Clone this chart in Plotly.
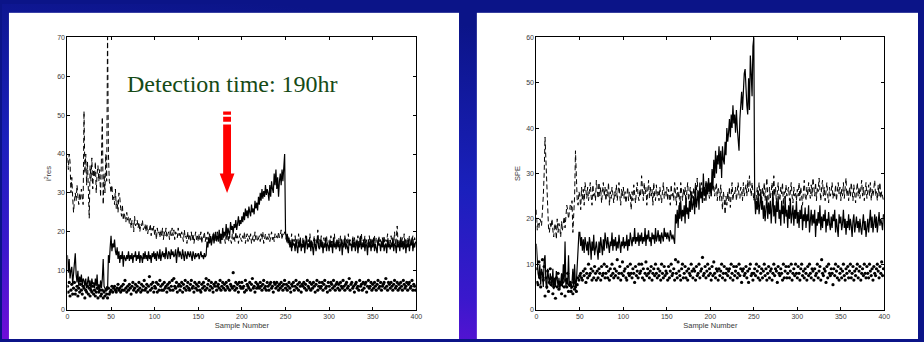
import base64
import plotly.graph_objects as go

# ---------------------------------------------------------------- data
# Sample index shared by every series (0..399)
sample_number = list(range(400))

# Left panel: T^2 residual statistic
t2_solid = [
    14, 9.5, 13, 8, 10, 11, 6.5, 9, 10, 14.5,
    9, 7, 10, 6, 8.5, 7, 9, 6, 8, 7.5,
    6, 8, 5.5, 7, 8.5, 6, 7.5, 5, 8, 6.5,
    7, 5.5, 8, 6, 9, 5, 6.5, 5, 7.5, 5.5,
    8, 13, 6, 5.5, 5, 6, 5, 14, 12, 16,
    19, 15, 17, 16, 18, 15, 14, 16, 13, 15,
    12, 14, 13, 15, 11, 14, 13, 12.5, 14, 13,
    15, 12.5, 14, 13, 14.5, 12, 14, 13.5, 15, 12.5,
    14, 13, 15, 12, 14, 13.5, 12, 14.5, 13, 15,
    13, 14, 12.5, 15, 13, 14, 12, 14.5, 13.5, 15,
    13, 14.5, 12.5, 15, 14, 13, 15.5, 12.5, 14, 15,
    13.5, 14.5, 13, 16, 14, 13, 15, 14.5, 13, 15.5,
    14, 15, 13.5, 14, 15.5, 12, 14.5, 16, 13.5, 15,
    14, 13, 15.5, 14, 12.5, 15, 14, 13, 15, 14,
    13.5, 15, 14, 12.5, 15, 14, 13, 14.5, 13.5, 14,
    14.5, 13, 14, 15, 13.5, 14, 13, 14.5, 13.5, 14,
    17.5, 16, 18.5, 17, 19, 16.5, 18, 19.5, 17, 18.5,
    20, 17.5, 19, 18, 20.5, 17, 19.5, 18, 21, 18.5,
    20, 19, 22, 18.5, 21, 20, 19, 22.5, 20.5, 21.5,
    19.5, 22, 21, 23, 20.5, 22, 24, 21.5, 23, 22,
    24, 22.5, 25, 23, 26, 24, 25.5, 23.5, 26.5, 25,
    24, 27, 25, 26, 24.5, 28, 26, 27.5, 25.5, 29,
    27, 30, 28, 31, 28.5, 30.5, 29, 32, 29.5, 31,
    30, 28, 32, 29, 33, 31, 30, 35, 32, 36,
    31, 34, 29, 33, 35, 32, 36, 33, 36, 40,
    20, 18, 19.5, 17, 18.5, 16, 17.5, 15, 18, 16.5,
    17, 15, 18, 16, 14.5, 17.5, 16, 18.5, 15, 17,
    16, 18, 14.5, 17, 19, 15.5, 17, 16, 18, 15,
    17.5, 16, 14, 18, 16.5, 15, 17, 19, 16, 15.5,
    18, 16, 17.5, 14.5, 17, 16, 18.5, 15, 17, 16.5,
    15, 18, 16, 17, 14.5, 18.5, 16, 17, 15.5, 18,
    16, 17.5, 15, 16.5, 18, 14, 17, 16, 18.5, 15.5,
    17, 16, 14.5, 18, 16.5, 17, 15, 18, 16, 17.5,
    15, 16.5, 18, 14.5, 17, 16, 19, 15.5, 17, 16,
    18, 15, 17, 16.5, 14, 18, 16, 17.5, 15, 17,
    16, 18.5, 15, 17, 16, 14.5, 18, 16.5, 17, 15,
    17.5, 16, 18, 15, 16.5, 17, 14.5, 18, 16, 17,
    15.5, 17, 16, 18.5, 15, 17, 16.5, 14.5, 18, 16,
    17, 15, 18, 16, 17.5, 15.5, 16, 18, 14.5, 17,
    16, 18, 15, 17, 16.5, 18.5, 15, 17, 16, 17.5,
]

t2_dashed = [
    39, 36, 40, 38, 30, 34, 29, 25, 28, 30,
    28, 32, 29, 27, 30, 28, 31, 29, 27, 51,
    35, 40, 32, 38, 29, 23.5, 37, 33, 39, 31,
    36, 34, 38, 30, 35, 37, 33, 36, 29, 38,
    49.5, 27, 35, 30, 40, 33, 72, 40, 33, 32,
    30, 32, 28, 29, 27, 31, 26, 28, 25, 30,
    29, 26, 24, 27, 23, 25, 24, 22.5, 25, 23,
    24, 22, 23.5, 21, 23, 22.5, 20, 24, 21.5, 22,
    23, 21, 22.5, 20, 22, 21.5, 23, 20.5, 21, 22,
    20, 22, 19.5, 21, 20.5, 22, 19, 21, 20, 21.5,
    19, 20.5, 18, 21, 19.5, 20, 18.5, 20.5, 19, 21,
    18, 20, 19, 21, 18.5, 19.5, 20, 18, 20.5, 19,
    21, 19, 20.5, 18, 20, 19.5, 18.5, 21, 19, 20,
    18.5, 20, 19, 17.5, 20.5, 18.5, 19, 17, 20, 18,
    19, 17.5, 20, 18, 19.5, 17, 18.5, 20, 18, 19,
    17.5, 19.5, 18, 20, 17, 19, 18.5, 20, 17.5, 19,
    18, 20, 17.5, 19.5, 18, 17, 19, 18.5, 20, 17.5,
    19, 18, 20, 17.5, 18.5, 19.5, 17, 19, 18, 20,
    18.5, 17, 19.5, 18, 20, 17.5, 19, 18, 17, 19.5,
    18, 19, 17.5, 20, 18, 19, 17, 18.5, 19.5, 18,
    17.5, 19, 18, 20, 17, 18.5, 19.5, 17.5, 19, 18,
    19.5, 17, 18.5, 19, 17.5, 20, 18, 19, 17.5, 18.5,
    19, 17.5, 19.5, 18, 20, 17, 18.5, 19.5, 18, 19,
    18, 19.5, 17.5, 19, 20, 18, 19, 17.5, 19.5, 18.5,
    19, 18, 20, 18.5, 19, 20.5, 18, 19.5, 19, 20,
    19, 18.5, 17, 19, 16.5, 18, 17, 19.5, 16, 18,
    17.5, 19, 16, 18, 17, 19.5, 16.5, 18, 17, 16,
    18.5, 17, 16, 19, 17.5, 16.5, 18, 17, 19.5, 16,
    18, 16.5, 17.5, 19, 16, 18, 17, 20.5, 16.5, 18,
    17, 19, 16, 17.5, 18.5, 16, 17, 19, 16.5, 18,
    17.5, 16, 19, 17, 18, 16.5, 19.5, 17, 16, 18,
    17, 18.5, 16, 19, 17.5, 16.5, 18, 17, 19, 16,
    18, 17, 19.5, 16.5, 18, 17, 16, 19, 17.5, 18.5,
    16.5, 18, 17, 19, 16, 18.5, 17, 19.5, 16.5, 18,
    17, 19, 16.5, 18, 17.5, 16, 19, 17, 18.5, 16.5,
    18, 17, 19, 16, 18.5, 17.5, 16.5, 19, 17, 18,
    16.5, 18.5, 17, 19, 16, 18, 17.5, 19.5, 16.5, 18,
    17, 19, 16.5, 18, 17, 20, 16.5, 18.5, 21.5, 17,
    18, 16.5, 19, 17, 18.5, 16, 19.5, 17, 18, 16.5,
    18.5, 17, 19, 16.5, 18, 17.5, 19, 16, 18.5, 17,
]

t2_dots = [
    6, 4.5, 7, 3.5, 5, 6.5, 4, 5.5, 7, 4,
    5, 6, 3.5, 5.5, 4.5, 6.5, 5, 4, 6, 5.5,
    3, 5, 4.5, 6, 4, 5.5, 3.5, 5, 4.5, 6,
    4, 5, 3.5, 4.5, 5.5, 3, 4.5, 5, 3.5, 4,
    5, 3, 4.5, 3.5, 5, 4, 3, 5.5, 4, 4.5,
    5, 6, 4.5, 5.5, 6, 5, 4.5, 5.5, 6.5, 5,
    5.5, 4.5, 6, 5, 6.5, 5, 7.5, 5.5, 4.5, 6,
    5, 6.5, 5.5, 4, 6, 7, 5, 5.5, 6.5, 4.5,
    6, 5, 7, 5.5, 4.5, 6.5, 5, 6, 7.5, 5,
    5.5, 6.5, 4.5, 6, 8.5, 5, 6.5, 5.5, 7, 4.5,
    6, 5.5, 7, 4.5, 6.5, 5, 7.5, 6, 5, 6.5,
    5, 7, 5.5, 6, 4.5, 6.5, 5.5, 7, 5, 6,
    7.5, 5, 8, 6, 5.5, 7, 4.5, 6, 6.5, 5,
    6, 7, 4.5, 6.5, 5.5, 7.5, 5, 6, 7, 5.5,
    5, 6.5, 7.5, 5.5, 6, 4.5, 7, 5.5, 6.5, 5,
    6, 7, 5, 4.5, 6.5, 5.5, 7, 6, 5, 8,
    5.5, 6.5, 7.5, 5, 6, 7, 5.5, 4.5, 6.5, 6,
    7, 5, 6, 6.5, 5.5, 7.5, 5, 6, 7, 5.5,
    6.5, 5, 7, 6, 5.5, 7.5, 5, 6.5, 6, 5.5,
    9.5, 6, 5, 7, 5.5, 6.5, 4.5, 7, 6, 5.5,
    7, 5.5, 6, 4.5, 7.5, 5, 6.5, 6, 5.5, 7,
    5, 6.5, 8, 5.5, 6, 4.5, 7, 5.5, 6.5, 6,
    5.5, 7, 6, 5, 6.5, 7.5, 5.5, 6, 5, 7,
    6, 5, 6.5, 7, 5.5, 6, 4.5, 7, 6.5, 5.5,
    7, 6, 5, 6.5, 5.5, 7, 6, 5, 6.5, 7.5,
    5.5, 6.5, 5, 6, 7, 5.5, 4.5, 6.5, 6, 7,
    5, 6, 7.5, 5.5, 6.5, 5, 7, 6, 4.5, 6.5,
    6, 7, 5.5, 6.5, 5, 7.5, 6, 5.5, 7, 5,
    6.5, 5.5, 7, 6, 4.5, 6.5, 7.5, 5, 6, 7,
    5.5, 6, 7, 5, 6.5, 7.5, 5.5, 6, 4.5, 7,
    6, 5, 7, 6.5, 5.5, 7.5, 6, 5, 6.5, 7,
    5.5, 6.5, 5, 7, 6, 5.5, 7.5, 6, 5, 6.5,
    7, 5.5, 6, 8, 5, 6.5, 7, 5.5, 6, 4.5,
    6.5, 7, 5.5, 6, 5, 7.5, 6, 6.5, 5, 7,
    5.5, 6.5, 7, 4.5, 6, 7.5, 5.5, 6, 7, 5,
    6.5, 5.5, 7, 6, 5, 6.5, 7.5, 5.5, 6, 7,
    5, 6, 6.5, 7, 5.5, 8, 6, 5, 7, 6.5,
    5.5, 7, 6, 5, 6.5, 7.5, 5.5, 6, 7, 5,
    6.5, 5.5, 7, 6, 5, 7.5, 6.5, 5.5, 6, 7,
    5, 6.5, 7, 5.5, 6, 7.5, 5, 6.5, 6, 5,
]

# Right panel: squared prediction error
spe_solid = [
    14.5, 9, 8, 7, 10, 5.5, 9, 8, 5, 11,
    12, 6, 4.5, 9, 7, 5.5, 8, 6, 5, 9,
    4.5, 7, 5, 8.5, 6, 5, 7, 4.5, 6, 8,
    5, 10, 6, 15, 5, 7, 5.5, 12, 5, 6,
    4.5, 6, 9, 5, 10, 5, 6, 9, 14, 17,
    17, 14, 16, 13, 15.5, 12.5, 16, 14, 13, 15,
    12, 16, 14.5, 11, 15, 13, 16.5, 12, 14, 15,
    13, 11, 15, 12.5, 16, 14, 12, 15.5, 13, 17,
    15, 13.5, 16, 14, 12.5, 15, 14, 17, 13, 15.5,
    14, 16, 13, 15, 13.5, 16.5, 14, 12.5, 15, 14,
    16, 13.5, 15, 14, 16.5, 13, 15.5, 14, 17, 15,
    14, 16, 15, 18, 14.5, 16, 15, 17, 14, 16.5,
    15, 17, 14.5, 16, 15, 18, 14, 16.5, 15.5, 17.5,
    15, 16, 14, 17, 15.5, 16.5, 14.5, 18, 15, 16,
    17.5, 15, 16.5, 14.5, 17, 16, 15, 18, 16, 17,
    15.5, 17, 16, 15, 17.5, 16, 15.5, 16.5, 15, 14.5,
    21, 19, 22, 18, 23, 20, 24, 19.5, 22, 20.5,
    23, 19, 25, 21, 22.5, 20, 24, 21.5, 26, 22,
    23, 25, 21, 27, 22.5, 24, 26, 22, 28, 24.5,
    26, 23.5, 30, 25, 27, 24, 28, 25.5, 29, 26,
    28, 25, 31, 27, 33, 29, 35, 30, 34, 32,
    36, 31, 35, 29, 36, 33, 32, 37, 34, 40,
    37, 39, 42, 38, 43, 40, 45, 41, 43, 39,
    44, 40, 38, 35, 42, 46, 48, 44, 50, 52,
    53, 47, 45, 43, 51, 44, 56, 52, 47, 58,
    60, 25, 21, 24, 22, 25.5, 21, 23, 26, 22,
    24, 20, 23, 19.5, 22, 25, 20, 23.5, 21, 24,
    19, 22, 26, 20.5, 23, 19, 24, 21.5, 25, 20,
    22, 18.5, 24, 21, 23, 19, 25, 20.5, 22, 18,
    23, 20, 24.5, 19, 21.5, 23, 18.5, 22, 20, 24,
    19, 21.5, 18, 22, 20, 23, 17.5, 21, 19.5, 22.5,
    18, 21, 19.5, 23, 17, 20.5, 22, 18.5, 21, 19,
    22, 16, 20, 18.5, 21.5, 19, 23, 17.5, 20.5, 18,
    21, 19.5, 22, 17, 20, 18.5, 21.5, 19, 17.5, 20.5,
    18, 21, 19.5, 22, 17, 20, 18.5, 16, 21, 19,
    20.5, 17.5, 19, 22, 18, 20, 16.5, 19.5, 18, 21,
    17.5, 20, 18.5, 16, 19.5, 21, 17, 19, 20.5, 18,
    19.5, 17, 20, 18, 16.5, 19, 21, 17.5, 19.5, 16,
    18.5, 20, 17, 19, 22, 18, 20.5, 17, 19, 21,
    18, 20.5, 17, 19.5, 21.5, 18.5, 20, 19, 17.5, 21,
]

spe_dashed = [
    22, 17.5, 19, 18, 20, 19.5, 18.5, 21, 25, 30,
    38, 33, 26, 19, 18, 17, 19, 18, 20, 17.5,
    16, 19, 18.5, 15.5, 20, 17, 19, 18, 16, 19.5,
    17.5, 19, 20.5, 18, 21, 23, 22, 20, 21.5, 23,
    22, 24, 17, 21, 25, 35, 27, 24, 23, 26,
    25, 22, 27, 24, 26.5, 23, 28, 25, 24.5, 27,
    24, 26, 28, 25, 23, 27.5, 25, 26, 24, 28.5,
    26, 24.5, 28, 25, 27, 23.5, 26, 28, 25, 27,
    24, 26.5, 25, 28, 23, 26, 24.5, 27, 25.5, 23.5,
    26, 25, 27.5, 24, 26, 28, 25, 23, 26.5, 25,
    27, 24.5, 26, 23.5, 25, 27, 24, 26, 25.5, 22,
    26, 24, 27.5, 25, 23.5, 26, 28, 25, 24, 26.5,
    25, 29.5, 26, 24, 28, 25.5, 27, 23, 26, 28.5,
    24.5, 27, 25, 26.5, 23, 28, 25, 24, 27.5, 25,
    26, 24, 27, 25.5, 23.5, 26, 28, 24.5, 26, 25,
    27, 24, 26.5, 25, 23, 27.5, 25, 26, 24, 28,
    25, 23, 27, 24.5, 26, 22, 28, 25, 24, 26.5,
    25, 27, 23.5, 26, 28, 24, 25.5, 27, 23, 26,
    24.5, 27, 25, 28, 26, 29, 24, 26.5, 25, 27,
    28, 25.5, 27, 24, 26, 28.5, 25, 27, 26, 24.5,
    27, 25, 28, 26, 27.5, 25, 26.5, 28, 24, 27,
    26, 24, 27.5, 25, 22, 26, 24.5, 21, 25, 23,
    26, 24, 27, 22.5, 25, 28, 24, 26, 25.5, 27,
    24, 26.5, 28, 25, 24.5, 27, 26, 24, 28, 25,
    26, 27.5, 25, 28.5, 26, 29.5, 27, 25, 28, 26,
    24, 26, 22.5, 25, 27, 24, 28, 25, 26.5, 23.5,
    27, 25, 28, 24, 26.5, 29, 25, 23, 27, 24.5,
    26, 28, 24, 29.5, 25, 27, 23.5, 26, 28, 25,
    24, 27, 25.5, 28, 23, 26, 24.5, 27.5, 25, 26,
    27, 24, 26.5, 28, 25, 23.5, 27, 25, 26, 24,
    26.5, 25, 28, 24, 27, 25.5, 23, 26, 28.5, 25,
    24, 27, 25, 28, 26, 24.5, 27.5, 25, 29, 26,
    25, 28, 24, 27, 26, 29, 25.5, 24, 27, 28.5,
    25, 27, 24, 26.5, 28, 25, 23.5, 27, 25, 26,
    28, 24.5, 26, 25, 27.5, 24, 26, 28, 25.5, 27,
    24, 26.5, 25, 28, 24.5, 27, 29, 25, 26.5, 24,
    27, 25, 28, 26, 24, 27.5, 25, 23.5, 26, 28,
    25, 27, 24.5, 26, 28.5, 25, 27, 24, 26, 28,
    24.5, 26, 27.5, 25, 28, 24, 26.5, 25, 27, 28.5,
    25, 26, 24, 27.5, 25, 28, 24.5, 26, 25, 24,
]

spe_dots = [
    9, 6, 5.5, 10.5, 7, 5, 8, 11, 6.5, 9.5,
    3, 7, 5, 8.5, 4, 6, 9, 5.5, 7, 3.5,
    5, 6.5, 2.5, 7, 5, 8, 4.5, 6, 5.5, 3.5,
    6, 7.5, 5, 3, 6.5, 5, 8, 4, 5.5, 6,
    4, 5, 3.5, 6, 4.5, 5, 4, 5.5, 7, 6.5,
    7.5, 8, 7, 6.5, 8.5, 7.5, 9, 6, 8, 7,
    10, 7.5, 8, 9, 6.5, 8.5, 7, 9.5, 8, 6.5,
    8.5, 7, 9, 8, 6.5, 9.5, 7.5, 8, 10, 7,
    8, 9.5, 7, 8.5, 6.5, 9, 7.5, 10, 8, 7,
    9, 7.5, 8.5, 11, 7, 8, 9.5, 6.5, 8, 10.5,
    7.5, 8.5, 9, 7, 6.5, 9.5, 8, 7.5, 10, 8,
    7, 9, 8, 6, 9.5, 7.5, 8.5, 7, 10, 8,
    8.5, 10, 7, 9, 6.5, 8, 10.5, 7.5, 9, 8,
    7, 8.5, 9.5, 6.5, 8, 9, 7.5, 10, 8, 7,
    9, 7.5, 8.5, 6.5, 10, 8, 7, 9.5, 7.5, 8.5,
    8, 6.5, 9.5, 7, 8.5, 10, 7.5, 8, 9, 6.5,
    11, 8, 7, 10.5, 8.5, 7.5, 6.5, 9, 10, 7,
    8, 9.5, 7, 8.5, 6.5, 9, 8, 7.5, 10, 8.5,
    7, 9, 8.5, 6.5, 9.5, 7.5, 8, 10, 7, 8.5,
    9, 11.5, 7.5, 8, 9.5, 7, 8.5, 10, 7.5, 9,
    8, 6.5, 9.5, 7.5, 10.5, 8, 7, 9, 8.5, 6.5,
    9, 7.5, 8.5, 10, 7, 8, 9.5, 6.5, 8, 9,
    7.5, 8.5, 9, 7, 10, 8, 6.5, 9.5, 7.5, 8.5,
    9.5, 7, 8, 10, 7.5, 9, 6, 8.5, 9, 7.5,
    8, 9.5, 7, 8.5, 6, 9, 10, 7.5, 8, 6.5,
    8, 9, 7.5, 10, 8.5, 7, 9.5, 6.5, 8, 9,
    7, 8.5, 10, 7.5, 9, 6.5, 8, 9.5, 7, 8.5,
    9, 6.5, 8, 10, 7.5, 9, 8.5, 6, 9.5, 8,
    7.5, 9, 8, 6.5, 10, 7, 8.5, 9.5, 7, 8,
    9.5, 7, 8.5, 10, 6.5, 8, 9, 7.5, 10, 8,
    7, 9.5, 8, 6.5, 9, 10, 7.5, 8.5, 7, 9,
    8, 6.5, 9.5, 7.5, 10, 8, 7, 9, 8.5, 6.5,
    9, 7.5, 8, 10, 7, 8.5, 9.5, 6.5, 11, 8,
    7.5, 9, 8.5, 6, 9.5, 7, 10, 8, 7.5, 9,
    8, 5.5, 9, 7.5, 10, 8.5, 7, 9.5, 6.5, 8,
    9, 7, 8.5, 10, 7.5, 6.5, 9, 8, 9.5, 7,
    8.5, 10, 7, 8, 9.5, 6.5, 8.5, 7.5, 9, 10,
    7, 8.5, 9.5, 6.5, 8, 9, 7.5, 10, 8, 7,
    9.5, 8, 7, 10, 8.5, 7.5, 9, 6.5, 9.5, 8,
    7.5, 9, 10, 8.5, 7, 9.5, 8, 10.5, 7.5, 9,
]

x_ticks = [0, 50, 100, 150, 200, 250, 300, 350, 400]
t2_ticks = [0, 10, 20, 30, 40, 50, 60, 70]
spe_ticks = [0, 10, 20, 30, 40, 50, 60]

# ---------------------------------------------------------------- figure
W, H = 924, 342
fig = go.Figure()

panels = [
    ("x", "y", t2_solid, t2_dashed, t2_dots),
    ("x2", "y2", spe_solid, spe_dashed, spe_dots),
]
for xa, ya, solid, dashed, dots in panels:
    fig.add_trace(go.Scatter(x=sample_number, y=dashed, mode="lines",
                             line=dict(color="black", width=1, dash="5px,3px"),
                             xaxis=xa, yaxis=ya, hoverinfo="skip"))
    fig.add_trace(go.Scatter(x=sample_number, y=solid, mode="lines",
                             line=dict(color="black", width=1.2),
                             xaxis=xa, yaxis=ya, hoverinfo="skip"))
    fig.add_trace(go.Scatter(x=sample_number, y=dots, mode="markers",
                             marker=dict(color="black", size=3.2),
                             xaxis=xa, yaxis=ya, hoverinfo="skip"))

tick_font = dict(family="Liberation Sans, Arial", size=7, color="#3a3a3a")
title_font = dict(family="Liberation Sans, Arial", size=7.5, color="#3a3a3a")

axis_common = dict(showgrid=False, zeroline=False, showline=True,
                   linecolor="black", linewidth=1, mirror="ticks",
                   ticks="inside", ticklen=3, tickwidth=1, tickcolor="black",
                   tickfont=tick_font)

fig.update_layout(
    xaxis=dict(domain=[66 / W, 418 / W], range=[0, 400], tickvals=x_ticks,
               title=dict(text="Sample Number", font=title_font, standoff=3),
               anchor="y", **axis_common),
    yaxis=dict(domain=[1 - 312 / H, 1 - 34 / H], range=[0, 70], tickvals=t2_ticks,
               title=dict(text="i<sup>2</sup>res", font=title_font, standoff=4),
               anchor="x", **axis_common),
    xaxis2=dict(domain=[539 / W, 890 / W], range=[0, 400], tickvals=x_ticks,
                title=dict(text="Sample Number", font=title_font, standoff=3),
                anchor="y2", **axis_common),
    yaxis2=dict(domain=[1 - 312 / H, 1 - 34 / H], range=[0, 60], tickvals=spe_ticks,
                title=dict(text="SPE", font=title_font, standoff=4),
                anchor="x2", **axis_common),
)

# Slide background: blue-to-violet gradient with two white panels
svg = (
    "<svg xmlns='http://www.w3.org/2000/svg' width='924' height='342'>"
    "<defs><linearGradient id='g' x1='0.3' y1='0' x2='0' y2='1'>"
    "<stop offset='0' stop-color='#0b1488'/>"
    "<stop offset='0.45' stop-color='#1a20bc'/>"
    "<stop offset='0.75' stop-color='#3a18cc'/>"
    "<stop offset='1' stop-color='#6e0ed8'/>"
    "</linearGradient></defs>"
    "<rect width='924' height='342' fill='url(#g)'/>"
    "<rect x='7' y='9' width='454' height='333' fill='white'/>"
    "<rect x='479' y='9' width='445' height='333' fill='white'/>"
    "</svg>"
)
bg_src = "data:image/svg+xml;base64," + base64.b64encode(svg.encode()).decode()

fig.update_layout(
    images=[dict(source=bg_src, xref="paper", yref="paper", x=0, y=1,
                 sizex=1, sizey=1, sizing="stretch", xanchor="left",
                 yanchor="top", layer="below")],
)

# Red arrow marking the detection point (drawn in left-panel data units)
ax = 183
arrow_path = (f"M {ax - 4.5},47.6 L {ax + 4.5},47.6 L {ax + 4.5},35 "
              f"L {ax + 8.5},35 L {ax},30 L {ax - 8.5},35 L {ax - 4.5},35 Z")
fig.add_shape(type="path", path=arrow_path, xref="x", yref="y",
              fillcolor="#ff0000", line=dict(width=0), layer="above")
for y0, y1 in [(48.3, 49.6), (50.1, 50.9)]:
    fig.add_shape(type="rect", xref="x", yref="y", x0=ax - 4.5, x1=ax + 4.5,
                  y0=y0, y1=y1, fillcolor="#ff0000", line=dict(width=0),
                  layer="above")

fig.add_annotation(text="Detection time: 190hr", xref="paper", yref="paper",
                   x=233 / W, y=1 - 82 / H, xanchor="center", yanchor="middle",
                   showarrow=False,
                   font=dict(family="Liberation Serif, Times New Roman",
                             size=24, color="#164a16"))

fig.update_layout(
    width=W, height=H, autosize=False,
    margin=dict(l=0, r=0, t=0, b=0),
    paper_bgcolor="#0b1488", plot_bgcolor="white",
    showlegend=False,
)

fig.write_html("out.html")
